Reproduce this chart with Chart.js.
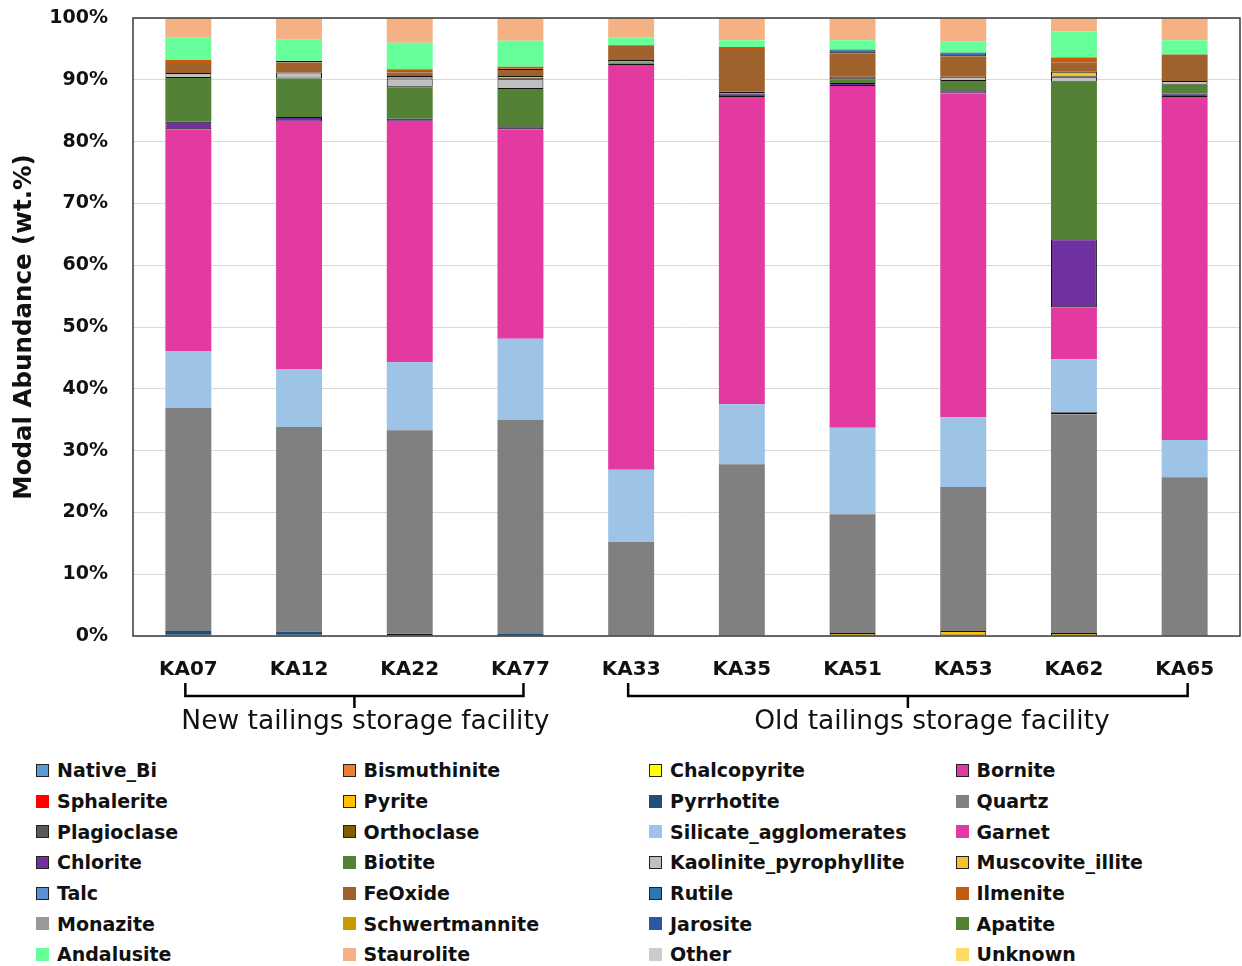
<!DOCTYPE html>
<html><head><meta charset="utf-8">
<script src="https://cdn.jsdelivr.net/npm/chart.js@4.4.1/dist/chart.umd.min.js"></script>
<style>
html,body{margin:0;padding:0;background:#fff;}
#wrap{position:relative;width:1242px;height:966px;overflow:hidden;background:#fff;}
#c{position:absolute;left:0;top:0;}
#legend{position:absolute;left:36px;top:755px;display:grid;grid-template-columns:repeat(4,306.5px);grid-auto-rows:30.7px;font-family:"DejaVu Sans",sans-serif;font-weight:bold;font-size:19px;color:#111;}
.li{display:flex;align-items:center;white-space:nowrap;}
.bx{width:13px;height:13px;margin-right:8px;box-sizing:border-box;flex:none;}
</style></head>
<body><div id="wrap"><canvas id="c" width="1242" height="745"></canvas><div id="legend"></div></div>
<script>
// ---- data (wt.%) ----
const samples = ['KA07','KA12','KA22','KA77','KA33','KA35','KA51','KA53','KA62','KA65'];
const groupNames = ['New tailings storage facility','Old tailings storage facility'];
const groupStart = [0, 4];
const groupEnd = [3, 9];
const yTicks = [0,10,20,30,40,50,60,70,80,90,100];

const Native_Bi      = [0.2,0.2,0,0,0,0,0,0,0,0];
const Bismuthinite   = [0,0,0,0,0,0,0,0,0,0];
const Chalcopyrite   = [0,0,0,0,0,0,0,0,0,0];
const Bornite        = [0,0,0.4,0,0,0,0,0,0,0];
const Sphalerite     = [0,0,0,0,0,0,0,0,0,0];
const Pyrite         = [0,0,0,0,0,0,0.5,0.8,0.5,0];
const Pyrrhotite     = [0.6,0.5,0,0.4,0,0,0,0,0,0];
const Quartz         = [36.1,33.1,32.9,34.6,15.2,27.8,19.2,23.3,35.4,25.7];
const Plagioclase    = [0,0,0,0,0,0,0,0,0.3,0];
const Orthoclase     = [0,0,0,0,0,0,0,0,0,0];
const Silicate_agglomerates = [9.2,9.4,11.0,13.1,11.7,9.7,14.0,11.3,8.6,6.0];
const Garnet         = [35.9,40.0,38.9,33.9,65.5,49.7,55.3,52.4,8.4,55.5];
const Chlorite       = [1.2,0.8,0.5,0.5,0.2,0.6,0.5,0.5,11.0,0.6];
const Biotite        = [7.1,6.2,5.1,6.0,0.2,0,0.6,1.5,25.5,1.4];
const Kaolinite_pyrophyllite = [0.8,1.0,1.4,1.6,0.4,0.3,0.4,0.7,0.8,0.6];
const Muscovite_illite = [0,0,0.4,0.5,0,0,0,0,0.8,0];
const Talc           = [0,0,0,0,0,0,0,0,0,0];
const FeOxide        = [1.6,1.6,0.6,1.0,2.4,6.9,3.8,3.3,1.5,4.3];
const Rutile         = [0,0.3,0.2,0.2,0,0,0.6,0.6,0,0];
const Ilmenite       = [0.5,0,0.3,0.3,0,0.3,0,0,0.8,0];
const Monazite       = [0,0,0,0,0,0,0,0,0,0];
const Schwertmannite = [0,0,0,0,0,0,0,0,0,0];
const Jarosite       = [0,0,0,0,0,0,0,0,0,0];
const Apatite        = [0,0,0,0,0,0,0,0,0,0];
const Andalusite     = [3.6,3.4,4.3,4.2,1.2,1.1,1.5,1.8,4.2,2.3];
const Staurolite     = [3.2,3.5,4.0,3.7,3.2,3.6,3.6,3.8,2.2,3.6];
const Other          = [0,0,0,0,0,0,0,0,0,0];
const Unknown        = [0,0,0,0,0,0,0,0,0,0];

// ---- series definitions: [name, values, color, bordered] ----
const series = [
  ['Native_Bi', Native_Bi, '#5b9bd5', true],
  ['Bismuthinite', Bismuthinite, '#ed7d31', true],
  ['Chalcopyrite', Chalcopyrite, '#ffff00', true],
  ['Bornite', Bornite, '#e03ca0', true],
  ['Sphalerite', Sphalerite, '#ff0000', false],
  ['Pyrite', Pyrite, '#ffc000', true],
  ['Pyrrhotite', Pyrrhotite, '#1f4e79', false],
  ['Quartz', Quartz, '#808080', false],
  ['Plagioclase', Plagioclase, '#595959', true],
  ['Orthoclase', Orthoclase, '#7f6000', true],
  ['Silicate_agglomerates', Silicate_agglomerates, '#9dc3e6', false],
  ['Garnet', Garnet, '#e33aa1', false],
  ['Chlorite', Chlorite, '#7030a0', true],
  ['Biotite', Biotite, '#538135', false],
  ['Kaolinite_pyrophyllite', Kaolinite_pyrophyllite, '#bfbfbf', true],
  ['Muscovite_illite', Muscovite_illite, '#f5c02a', true],
  ['Talc', Talc, '#5b8fd6', true],
  ['FeOxide', FeOxide, '#a0622d', false],
  ['Rutile', Rutile, '#2e75b6', true],
  ['Ilmenite', Ilmenite, '#c55a11', false],
  ['Monazite', Monazite, '#999999', false],
  ['Schwertmannite', Schwertmannite, '#c89a00', false],
  ['Jarosite', Jarosite, '#2f55a4', false],
  ['Apatite', Apatite, '#548235', false],
  ['Andalusite', Andalusite, '#66ff99', false],
  ['Staurolite', Staurolite, '#f4b183', false],
  ['Other', Other, '#cccccc', false],
  ['Unknown', Unknown, '#ffd966', false]
];

const datasets = series.map(([name, vals, col, bord]) => ({
  label: name,
  data: vals,
  backgroundColor: col,
  borderColor: '#111',
  borderWidth: bord ? 1 : 0,
  borderSkipped: false,
  barPercentage: 0.415,
  categoryPercentage: 1.0,
  stack: 's'
}));

const textShift = [11, 24];

const frame = {
  id: 'frame',
  afterDatasetsDraw(chart) {
    const {ctx, chartArea: a} = chart;
    ctx.save();
    ctx.strokeStyle = '#3a3a3a';
    ctx.lineWidth = 1.5;
    ctx.strokeRect(a.left, a.top, a.right - a.left, a.bottom - a.top);
    ctx.restore();
  },
  afterDraw(chart) {
    const {ctx} = chart;
    const x = chart.scales.x;
    ctx.save();
    ctx.strokeStyle = '#000';
    ctx.lineWidth = 2.5;
    ctx.lineCap = 'butt';
    ctx.fillStyle = '#111';
    ctx.font = '26.5px "DejaVu Sans", sans-serif';
    ctx.textAlign = 'center';
    ctx.textBaseline = 'middle';
    for (let g = 0; g < groupNames.length; g++) {
      const x0 = x.getPixelForValue(groupStart[g]) - 3;
      const x1 = x.getPixelForValue(groupEnd[g]) + 3;
      const xm = (x0 + x1) / 2;
      const yTop = 683, yLine = 696, yBot = 708;
      ctx.beginPath();
      ctx.moveTo(x0, yTop); ctx.lineTo(x0, yLine); ctx.lineTo(x1, yLine); ctx.lineTo(x1, yTop);
      ctx.moveTo(xm, yLine); ctx.lineTo(xm, yBot);
      ctx.stroke();
      ctx.fillText(groupNames[g], xm + textShift[g], 722);
    }
    ctx.restore();
  }
};

const chart = new Chart(document.getElementById('c'), {
  type: 'bar',
  data: { labels: samples, datasets },
  options: {
    responsive: false,
    animation: false,
    layout: { padding: { left: 0, right: 2, top: 18, bottom: 0 } },
    plugins: { legend: { display: false }, tooltip: { enabled: false } },
    scales: {
      x: {
        stacked: true,
        grid: { display: false, drawTicks: false },
        border: { display: false },
        ticks: { color: '#111', padding: 22, font: { family: 'DejaVu Sans', weight: 'bold', size: 20 } },
        afterFit(s) { s.height = 109; }
      },
      y: {
        stacked: true,
        min: 0, max: 100,
        afterBuildTicks(s) { s.ticks = yTicks.map(v => ({ value: v })); },
        grid: { color: '#d9d9d9', lineWidth: 1, drawTicks: false },
        border: { display: false },
        ticks: { color: '#111', padding: 25, font: { family: 'DejaVu Sans', weight: 'bold', size: 19 }, callback: v => v + '%' },
        title: { display: true, text: 'Modal Abundance (wt.%)', color: '#111', padding: { top: 10, bottom: 0 }, font: { family: 'DejaVu Sans', weight: 'bold', size: 24.5 } },
        afterFit(s) { s.width = 133; s.paddingTop = 0; s.paddingBottom = 0; }
      }
    }
  },
  plugins: [frame]
});

// HTML legend, 4 columns, built from the chart's datasets
const leg = document.getElementById('legend');
chart.data.datasets.forEach((d) => {
  const it = document.createElement('div'); it.className = 'li';
  const b = document.createElement('span'); b.className = 'bx';
  b.style.background = d.backgroundColor;
  b.style.border = d.borderWidth ? '1.5px solid #222' : 'none';
  const t = document.createElement('span'); t.textContent = d.label;
  it.appendChild(b); it.appendChild(t); leg.appendChild(it);
});
</script></body></html>
